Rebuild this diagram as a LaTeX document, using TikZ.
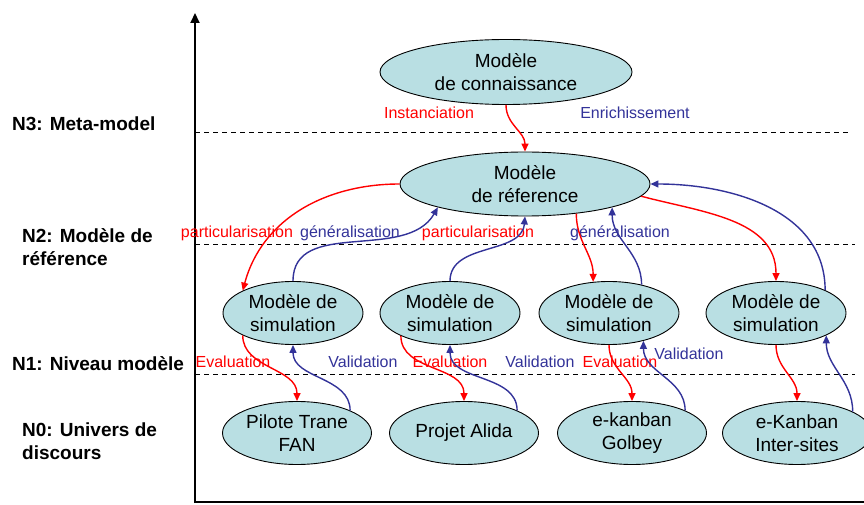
\documentclass[tikz,border=0pt]{standalone}
\usepackage{fontspec}
\setmainfont{Liberation Sans}
\usetikzlibrary{shapes.geometric,arrows.meta}
\definecolor{modelfill}{RGB}{185,223,227}
\definecolor{upblue}{RGB}{51,51,153}
\definecolor{downred}{RGB}{255,0,0}
\tikzset{
  model/.style={ellipse,draw,fill=modelfill,line width=0.9pt,inner sep=0pt,align=center,font=\fontsize{19}{23}\selectfont},
  level/.style={anchor=west,align=left,inner sep=0pt,font=\bfseries\fontsize{19}{23}\selectfont},
  downlbl/.style={text=downred,inner sep=0pt,font=\fontsize{16}{19}\selectfont},
  uplbl/.style={text=upblue,inner sep=0pt,font=\fontsize{16}{19}\selectfont},
  redarrow/.style={->,draw=downred,line width=1.4pt},
  bluearrow/.style={->,draw=upblue,line width=1.4pt},
  levelline/.style={line width=1pt,dash pattern=on 5pt off 4pt},
}
\begin{document}
\begin{tikzpicture}[x=1pt,y=1pt,>={Triangle[length=8pt,width=7pt]}]
\useasboundingbox (0,0) rectangle (864,504);
% axes
\draw[-{Triangle[length=10pt,width=9pt]},line width=2pt] (195,1) -- (195,491);
\draw[line width=2pt] (195,2) -- (864,2);
% levels
\draw[levelline] (195,371) -- (848,371);
\draw[levelline] (195,260) -- (855,260);
\draw[levelline] (195,130) -- (855,130);
\node[level] (n3) at (12,380) {N3: Meta-model};
\node[level] (n2) at (22,257) {N2: Modèle de\\référence};
\node[level] (n1) at (12,140) {N1: Niveau modèle};
\node[level] (n0) at (22,63) {N0: Univers de\\discours};
% models
\node[model,minimum width=252pt,minimum height=65pt] (conn) at (506,432) {Modèle\\de connaissance};
\node[model,minimum width=250pt,minimum height=64pt] (ref) at (525,320) {Modèle\\de réference};
\node[model,minimum width=140pt,minimum height=63pt] (sim1) at (293,191) {Modèle de\\simulation};
\node[model,minimum width=140pt,minimum height=63pt] (sim2) at (450,191) {Modèle de\\simulation};
\node[model,minimum width=140pt,minimum height=63pt] (sim3) at (609,191) {Modèle de\\simulation};
\node[model,minimum width=140pt,minimum height=63pt] (sim4) at (776,191) {Modèle de\\simulation};
\node[model,minimum width=149pt,minimum height=63pt] (pilote) at (297,71) {Pilote Trane\\FAN};
\node[model,minimum width=149pt,minimum height=63pt] (alida) at (464,71) {Projet Alida};
\node[model,minimum width=149pt,minimum height=63pt] (golbey) at (632,71) {e-kanban\\Golbey};
\node[model,minimum width=149pt,minimum height=63pt] (inter) at (797,71) {e-Kanban\\Inter-sites};
% labels
\node[downlbl] (inst) at (429,391) {Instanciation};
\node[uplbl] (enrich) at (635,391) {Enrichissement};
\node[downlbl] (part1) at (237,271) {particularisation};
\node[uplbl] (gen1) at (350,271) {généralisation};
\node[downlbl] (part2) at (478,271) {particularisation};
\node[uplbl] (gen2) at (620,271) {généralisation};
\node[downlbl] (eval1) at (233,142) {Evaluation};
\node[uplbl] (valid1) at (363,142) {Validation};
\node[downlbl] (eval2) at (450,142) {Evaluation};
\node[uplbl] (valid2) at (540,142) {Validation};
\node[downlbl] (eval3) at (620,142) {Evaluation};
\node[uplbl] (valid3) at (689,150) {Validation};
% N3 -> N2
\draw[redarrow] (conn.south) to[out=-90,in=90] (ref.north);
% N2 <-> N1
\draw[redarrow] (ref.west) to[out=180,in=75] (sim1.156);
\draw[bluearrow] (sim1.north) to[out=90,in=-120] (ref.195);
\draw[bluearrow] (sim2.north) to[out=90,in=-95] (ref.south);
\draw[redarrow] (ref.330) to[out=-90,in=90] (sim3.117);
\draw[bluearrow] (sim3.41) to[out=90,in=-90] (ref.345);
\draw[redarrow] (ref.354) to[out=-15,in=90] (sim4.north);
\draw[bluearrow] (sim4.25) to[out=90,in=0] (ref.east);
% N1 <-> N0
\draw[redarrow] (sim1.204) to[out=-90,in=90] (pilote.north);
\draw[bluearrow] (pilote.23) to[out=90,in=-90] (sim1.south);
\draw[redarrow] (sim2.205) to[out=-90,in=90] (alida.north);
\draw[bluearrow] (alida.23) to[out=90,in=-90] (sim2.south);
\draw[redarrow] (sim3.south) to[out=-90,in=90] (golbey.north);
\draw[bluearrow] (golbey.23) to[out=90,in=-90] (sim3.321);
\draw[redarrow] (sim4.south) to[out=-90,in=90] (inter.north);
\draw[bluearrow] (inter.21) to[out=90,in=-90] (sim4.336);
\end{tikzpicture}
\end{document}
